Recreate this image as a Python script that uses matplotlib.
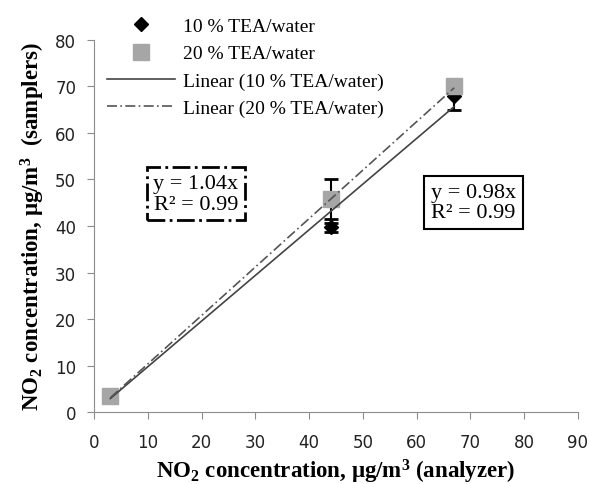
import numpy as np
import matplotlib
matplotlib.use("Agg")
import matplotlib.pyplot as plt

# data
analyzer = [3, 44, 67]
tea10 = [3.4, 39.7, 68.0]
tea10_err = [0.5, 1.0, 3.0]
tea20 = [3.5, 45.7, 70.0]
tea20_err = [0.5, 4.3, 1.0]
slopes = {"10": 0.98, "20": 1.04}
r2 = {"10": 0.99, "20": 0.99}

plt.rcParams["mathtext.fontset"] = "custom"
plt.rcParams["mathtext.rm"] = "Liberation Serif"
plt.rcParams["mathtext.bf"] = "Liberation Serif:bold"
serif = "Liberation Serif"

fig = plt.figure(figsize=(5.89, 4.85), dpi=100)
ax = fig.add_axes([0.16, 0.148, 0.821, 0.768])

x = np.array(analyzer)
xl = np.array([x.min(), x.max()])

ax.errorbar(analyzer, tea10, yerr=tea10_err, fmt="none", ecolor="black",
            elinewidth=1.5, capsize=5, capthick=2, zorder=2)
ax.errorbar(analyzer, tea20, yerr=tea20_err, fmt="none", ecolor="black",
            elinewidth=1.5, capsize=5, capthick=2, zorder=2)
ax.plot(analyzer, tea10, "D", color="black", ms=7, ls="none",
        label="10 % TEA/water", zorder=3)
ax.plot(analyzer, tea20, "s", color="#a6a6a6", ms=11, ls="none",
        label="20 % TEA/water", zorder=4)
ax.plot(xl, slopes["10"] * xl, "-", color="#444444", lw=1.2,
        label="Linear (10 % TEA/water)", zorder=5)
ax.plot(xl, slopes["20"] * xl, color="#555555", lw=1.2, ls=(0, (6, 2, 1, 2)),
        label="Linear (20 % TEA/water)", zorder=5)

ax.set_xlim(0, 90)
ax.set_ylim(0, 80)
ax.set_xticks(range(0, 91, 10))
ax.set_yticks(range(0, 81, 10))
for s in ["top", "right"]:
    ax.spines[s].set_visible(False)
for s in ["left", "bottom"]:
    ax.spines[s].set_color("#8c8c8c")
ax.tick_params(colors="#8c8c8c", labelcolor="#222222", labelsize=12, length=5)
ax.tick_params(axis="y", pad=8)
ax.tick_params(axis="x", pad=10)

ax.set_xlabel(r"NO$_\mathbf{2}$ concentration, μg/m$\mathbf{^3}$ (analyzer)",
              family=serif, fontweight="bold", fontsize=16.5, labelpad=4)
ax.set_ylabel(r"NO$_\mathbf{2}$ concentration, μg/m$\mathbf{^3}$  (samplers)",
              family=serif, fontweight="bold", fontsize=16.5, labelpad=6)

leg = ax.legend(loc="upper left", bbox_to_anchor=(0.027, 1.06), frameon=False,
                prop={"family": serif, "size": 14}, handlelength=3.5,
                handletextpad=0.4, labelspacing=0.5, borderaxespad=0,
                borderpad=0)

ax.text(18.9, 46.9, f"y = {slopes['20']:.2f}x\nR² = {r2['20']:.2f}", family=serif,
        fontsize=16, ha="center", va="center", multialignment="center",
        linespacing=1.1,
        bbox=dict(boxstyle="square,pad=0.3", fc="white", ec="black", lw=2,
                  ls="-."))
ax.text(70.6, 45, f"y = {slopes['10']:.2f}x\nR² = {r2['10']:.2f}", family=serif,
        fontsize=16, ha="center", va="center", multialignment="center",
        linespacing=1.1,
        bbox=dict(boxstyle="square,pad=0.3", fc="white", ec="black", lw=1.5))

fig.savefig("out.png", dpi=100)
